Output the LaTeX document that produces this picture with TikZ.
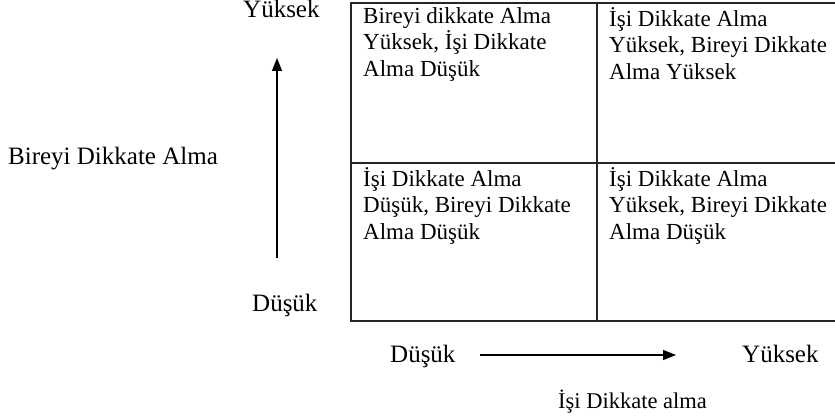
\documentclass[tikz,border=0pt]{standalone}
\usepackage{fontspec}
\setmainfont{Liberation Serif}
\usetikzlibrary{arrows.meta}
\tikzset{
  lbl/.style={anchor=base west, inner sep=0pt, font=\fontsize{25}{28}\selectfont},
  lblsmall/.style={anchor=base west, inner sep=0pt, font=\fontsize{22.5}{26}\selectfont},
  celltext/.style={anchor=north west, inner sep=0pt, align=left, font=\fontsize{23}{26.5}\selectfont},
  grid/.style={line width=1.3pt, draw=black!85},
  axis/.style={line width=1.1pt, -{Triangle[length=13pt,width=10pt]}}
}
\begin{document}
\begin{tikzpicture}[x=1pt,y=-1pt]
\useasboundingbox (0,0) rectangle (835,420);
% grid
\coordinate (tl) at (351,3);
\coordinate (tr) at (836,3);
\coordinate (ml) at (351,163);
\coordinate (mr) at (836,163);
\coordinate (bl) at (351,321);
\coordinate (br) at (836,321);
\coordinate (tm) at (597,3);
\coordinate (bm) at (597,321);
\draw[grid] (tr) -- (tl) -- (bl) -- (br);
\draw[grid] (ml) -- (mr);
\draw[grid] (tm) -- (bm);
% cell texts
\node[celltext] (c1) at (363,7) {Bireyi dikkate Alma\\Yüksek, İşi Dikkate\\Alma Düşük};
\node[celltext] (c2) at (609,7) {İşi Dikkate Alma\\Yüksek, Bireyi Dikkate\\Alma Yüksek};
\node[celltext] (c3) at (363,167) {İşi Dikkate Alma\\Düşük, Bireyi Dikkate\\Alma Düşük};
\node[celltext] (c4) at (609,167) {İşi Dikkate Alma\\Yüksek, Bireyi Dikkate\\Alma Düşük};
% vertical axis
\node[lbl] (vy) at (243,18) {Yüksek};
\node[lbl] (vd) at (252,311) {Düşük};
\node[lbl] (vl) at (8,164) {Bireyi Dikkate Alma};
\coordinate (va) at (277,258);
\coordinate (vb) at (277,58);
\draw[axis] (va) -- (vb);
% horizontal axis
\node[lbl] (hd) at (390,362) {Düşük};
\node[lbl] (hy) at (742,362) {Yüksek};
\node[lblsmall] (hl) at (558,408) {İşi Dikkate alma};
\coordinate (ha) at (480,355);
\coordinate (hb) at (676,355);
\draw[axis] (ha) -- (hb);
\end{tikzpicture}
\end{document}
